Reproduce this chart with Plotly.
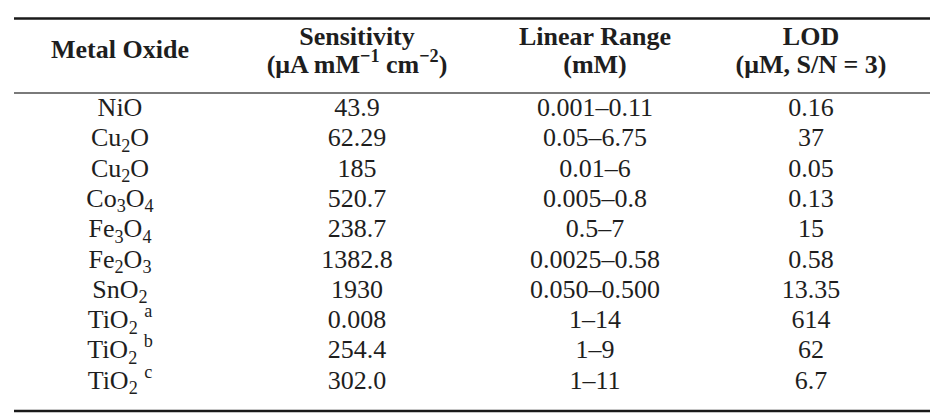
import plotly.graph_objects as go

# ---- data ----
metal_oxides = ["NiO", "Cu<sub>2</sub>O", "Cu<sub>2</sub>O", "Co<sub>3</sub>O<sub>4</sub>",
                "Fe<sub>3</sub>O<sub>4</sub>", "Fe<sub>2</sub>O<sub>3</sub>", "SnO<sub>2</sub>",
                "TiO<sub>2</sub> <sup>a</sup>", "TiO<sub>2</sub> <sup>b</sup>", "TiO<sub>2</sub> <sup>c</sup>"]
sensitivity = ["43.9", "62.29", "185", "520.7", "238.7", "1382.8", "1930", "0.008", "254.4", "302.0"]
linear_range = ["0.001–0.11", "0.05–6.75", "0.01–6", "0.005–0.8", "0.5–7", "0.0025–0.58",
                "0.050–0.500", "1–14", "1–9", "1–11"]
lod = ["0.16", "37", "0.05", "0.13", "15", "0.58", "13.35", "614", "62", "6.7"]

header_line1 = ["", "Sensitivity", "Linear Range", "LOD"]
header_line2 = ["", "(μA mM<sup>−1</sup> cm<sup>−2</sup>)", "(mM)", "(μM, S/N = 3)"]
header_single = ["Metal Oxide", "", "", ""]

# ---- layout constants ----
W, H = 945, 417
col_x = [112, 349, 587, 803]
row_top, row_step = 101.5, 30.3
body_font = dict(family="Liberation Serif", size=26, color="#1e1e1e")
head_font = dict(family="Liberation Serif", size=26, color="#1e1e1e")

fig = go.Figure()
columns = [metal_oxides, sensitivity, linear_range, lod]
n = len(metal_oxides)
row_y = [row_top + i * row_step for i in range(n)]
for cx, vals in zip(col_x, columns):
    fig.add_trace(go.Scatter(x=[cx] * n, y=row_y, text=vals, mode="text",
                             textposition="middle center", textfont=body_font,
                             hoverinfo="skip", showlegend=False))

# header
hx, hy, ht = [], [], []
for cx, a, b, s in zip(col_x, header_line1, header_line2, header_single):
    if s:
        hx.append(cx); hy.append(43.5); ht.append("<b>" + s + "</b>")
    if a:
        hx.append(cx); hy.append(30); ht.append("<b>" + a + "</b>")
    if b:
        hx.append(cx); hy.append(58); ht.append("<b>" + b + "</b>")
fig.add_trace(go.Scatter(x=hx, y=hy, text=ht, mode="text", textposition="middle center",
                         textfont=head_font, hoverinfo="skip", showlegend=False))

# rules
fig.add_shape(type="line", x0=6, x1=922, y0=10.5, y1=10.5, line=dict(color="#1a1a1a", width=2.5))
fig.add_shape(type="line", x0=6, x1=922, y0=85, y1=85, line=dict(color="#7a7a7a", width=2))
fig.add_shape(type="line", x0=6, x1=922, y0=403, y1=403, line=dict(color="#1a1a1a", width=2.5))

fig.update_xaxes(range=[0, W], visible=False, fixedrange=True)
fig.update_yaxes(range=[H, 0], visible=False, fixedrange=True)
fig.update_layout(width=W, height=H, margin=dict(l=0, r=0, t=0, b=0),
                  paper_bgcolor="white", plot_bgcolor="white")

fig.write_html("out.html", config={"displayModeBar": False})
